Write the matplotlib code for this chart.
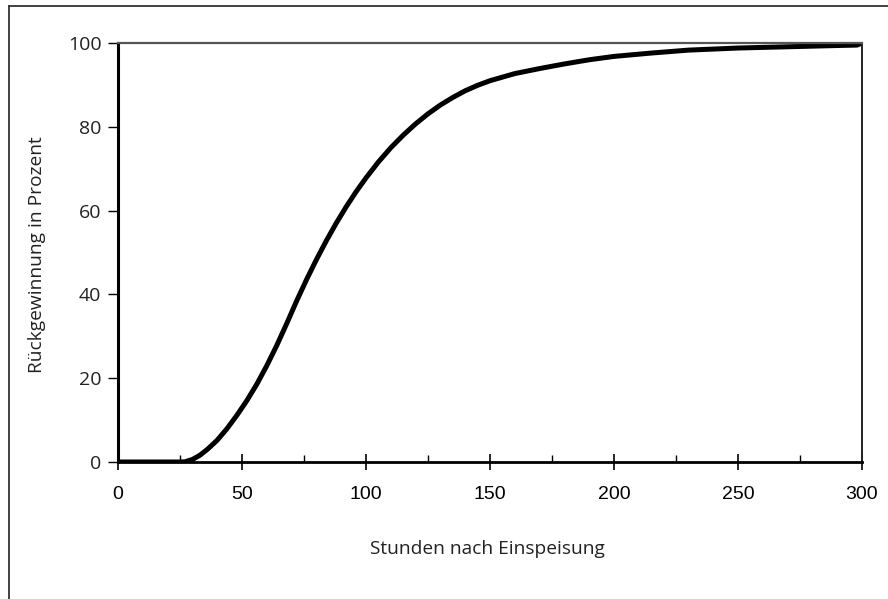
import matplotlib
matplotlib.use("Agg")
import matplotlib.pyplot as plt
from matplotlib.ticker import MultipleLocator
from matplotlib.lines import Line2D

# Data
hours = [0, 10, 20, 25, 27, 30, 33, 36, 40, 44, 48, 52, 56, 60, 64, 68, 72, 76, 80,
         84, 88, 92, 96, 100, 105, 110, 115, 120, 125, 130, 135, 140, 145, 150, 160,
         170, 180, 190, 200, 215, 230, 250, 270, 290, 298, 300]
recovery = [0, 0, 0, 0, 0.05, 0.6, 1.6, 3.0, 5.2, 8.0, 11.2, 14.7, 18.6, 23.0, 27.8,
            33.0, 38.4, 43.5, 48.3, 52.8, 57.0, 60.9, 64.5, 67.8, 71.6, 75.0, 78.0,
            80.7, 83.1, 85.2, 87.0, 88.6, 89.9, 91.0, 92.7, 93.9, 95.0, 96.0, 96.8,
            97.6, 98.3, 98.8, 99.1, 99.4, 99.5, 100]

x_ticks = [0, 50, 100, 150, 200, 250, 300]
y_ticks = [0, 20, 40, 60, 80, 100]
x_label = "Stunden nach Einspeisung"
y_label = "Rückgewinnung in Prozent"

W, H = 888, 599
fig = plt.figure(figsize=(W / 100, H / 100), dpi=100)
ax = fig.add_axes([118 / W, 1 - 462 / H, (862 - 118) / W, (462 - 43) / H])

ax.plot(hours, recovery, color="black", lw=3.6, solid_capstyle="butt", solid_joinstyle="round")

ax.set_xlim(0, 300)
ax.set_ylim(0, 100)
ax.set_xticks(x_ticks)
ax.set_xticklabels([str(t) for t in x_ticks], fontfamily="Liberation Sans",
                   fontsize=14, color="black")
ax.set_yticks(y_ticks)
ax.set_yticklabels([str(t) for t in y_ticks], fontfamily="Open Sans",
                   fontsize=14, color="#222222")
ax.xaxis.set_minor_locator(MultipleLocator(25))

ax.tick_params(axis="x", which="major", direction="inout", length=12, width=1.2, pad=11)
ax.tick_params(axis="x", which="minor", direction="in", length=5, width=1.0)
ax.tick_params(axis="y", which="major", direction="out", length=7, width=1.0, pad=5)

ax.spines["left"].set_linewidth(2.2)
ax.spines["bottom"].set_linewidth(2.0)
ax.spines["top"].set_linewidth(1.6)
ax.spines["top"].set_color("#555555")
ax.spines["right"].set_linewidth(1.4)
ax.spines["right"].set_color("#222222")

fig.text(487 / W, 1 - 549 / H, x_label, ha="center", va="center",
         fontsize=13.8, family="Open Sans", color="#222222")
fig.text(37 / W, 1 - 255 / H, y_label, ha="center", va="center", rotation=90,
         fontsize=13.8, family="Open Sans", color="#222222")

# Figure border (top and left visible)
fig.add_artist(Line2D([9 / W, 9 / W], [1 - 6 / H, -0.05], transform=fig.transFigure,
                      color="#333333", lw=1.3))
fig.add_artist(Line2D([9 / W, 1.05], [1 - 6 / H, 1 - 6 / H], transform=fig.transFigure,
                      color="#333333", lw=1.3))

fig.savefig("out.png", dpi=100)
